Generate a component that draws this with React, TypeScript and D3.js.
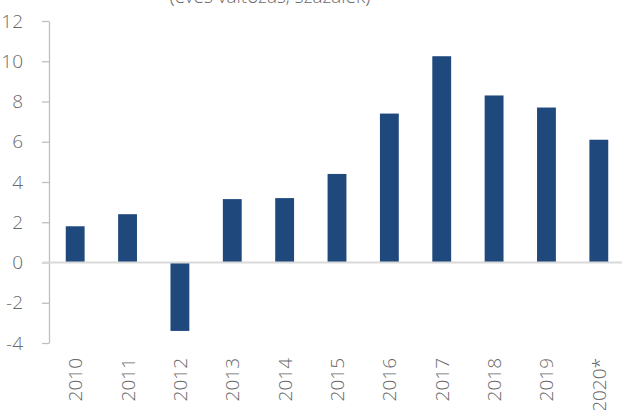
import { useEffect, useRef } from "react";
import * as d3 from "d3";

const years = ["2010", "2011", "2012", "2013", "2014", "2015", "2016", "2017", "2018", "2019", "2020*"];
const values = [1.8, 2.4, -3.4, 3.15, 3.2, 4.4, 7.4, 10.25, 8.3, 7.7, 6.1];
const yTicks = [-4, -2, 0, 2, 4, 6, 8, 10, 12];
const title = "(éves változás, százalék)";

const width = 622;
const height = 410;
const margin = { top: 21, right: -3, bottom: 67, left: 49 };

const App = () => {
  const svgRef = useRef(null);

  useEffect(() => {
    const svg = d3.select(svgRef.current);
    svg.selectAll("*").remove();

    const x = d3
      .scaleBand()
      .domain(years)
      .range([margin.left, width - margin.right])
      .paddingInner(0.64)
      .paddingOuter(0.32);

    const y = d3
      .scaleLinear()
      .domain([-4, 12])
      .range([height - margin.bottom, margin.top]);

    const font = "'Open Sans Light', 'Open Sans', sans-serif";
    const textColor = "#6a6a6a";

    // title (cut off at the top, as in the source)
    svg.append("text")
      .attr("x", 270)
      .attr("y", 3)
      .attr("text-anchor", "middle")
      .attr("font-family", font)
      .attr("font-weight", 300)
      .attr("font-size", 19)
      .attr("fill", textColor)
      .text(title);

    // y axis
    svg.append("g")
      .attr("transform", `translate(${margin.left},0)`)
      .call(d3.axisLeft(y)
        .tickValues(yTicks)
        .tickFormat(d => String(d))
        .tickSize(7)
        .tickPadding(19)
        .tickSizeOuter(0))
      .call(g => g.select(".domain").attr("stroke", "#bfbfbf").attr("stroke-width", 1.3))
      .call(g => g.selectAll(".tick line").attr("stroke", "#bfbfbf").attr("stroke-width", 1.3))
      .call(g => g.selectAll(".tick text")
        .attr("font-family", font)
        .attr("font-weight", 300)
        .attr("font-size", 19)
        .attr("fill", textColor));

    // bars
    svg.append("g")
      .selectAll("rect")
      .data(values)
      .join("rect")
      .attr("x", (d, i) => x(years[i]))
      .attr("width", x.bandwidth())
      .attr("y", d => y(Math.max(0, d)))
      .attr("height", d => Math.abs(y(d) - y(0)))
      .attr("fill", "#1f497d");

    // zero line
    svg.append("line")
      .attr("x1", margin.left - 7)
      .attr("x2", width)
      .attr("y1", y(0))
      .attr("y2", y(0))
      .attr("stroke", "#d9d9d9")
      .attr("stroke-width", 2);

    // x labels
    svg.append("g")
      .selectAll("text")
      .data(years)
      .join("text")
      .attr("transform", d => `translate(${x(d) + x.bandwidth() / 2 + 7},${y(-4) + 15}) rotate(-90)`)
      .attr("text-anchor", "end")
      .attr("font-family", font)
      .attr("font-weight", 300)
      .attr("font-size", 19)
      .attr("fill", textColor)
      .text(d => d);
  }, []);

  return (
    <svg
      ref={svgRef}
      width={width}
      height={height}
      style={{ position: "absolute", left: 0, top: 0 }}
    ></svg>
  );
};

export default App;
